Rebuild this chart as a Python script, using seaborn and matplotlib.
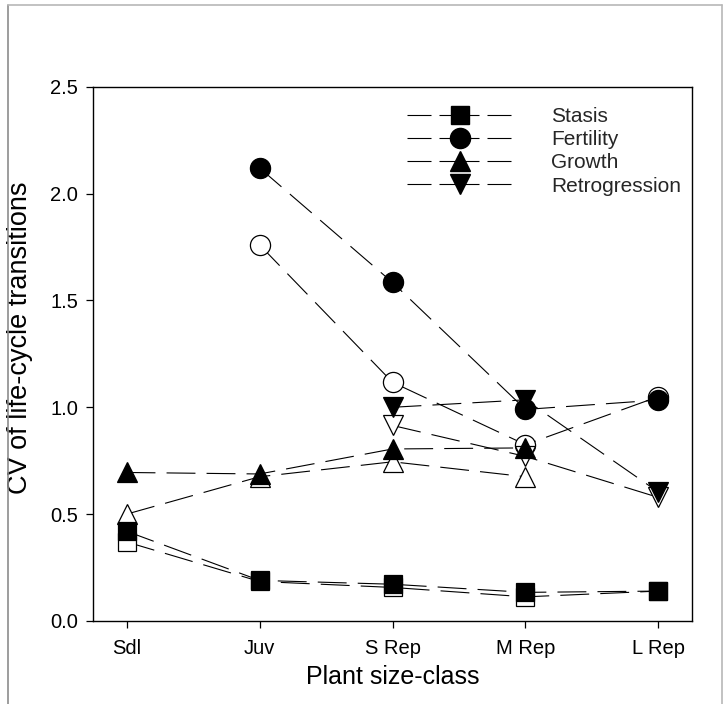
import numpy as np
import pandas as pd
import matplotlib
matplotlib.use("Agg")
import matplotlib.pyplot as plt
from matplotlib.lines import Line2D
import seaborn as sns

# ---------------- data ----------------
size_classes = ["Sdl", "Juv", "S Rep", "M Rep", "L Rep"]
nan = np.nan
stasis_open = [0.37, 0.185, 0.157, 0.113, 0.14]
stasis_filled = [0.42, 0.19, 0.172, 0.134, 0.14]
fertility_open = [nan, 1.76, 1.117, 0.825, 1.05]
fertility_filled = [nan, 2.12, 1.584, 0.99, 1.034]
growth_open = [0.50, 0.675, 0.745, 0.675, nan]
growth_filled = [0.695, 0.688, 0.805, 0.81, nan]
retro_open = [nan, nan, 0.915, 0.77, 0.578]
retro_filled = [nan, nan, 1.0, 1.035, 0.603]
legend_labels = ["Stasis", "Fertility", "Growth", "Retrogression"]
y_ticks = [0.0, 0.5, 1.0, 1.5, 2.0, 2.5]

# ---------------- style ----------------
sns.set_theme(style="ticks")
plt.rcParams["font.family"] = ["Liberation Sans", "DejaVu Sans"]

fig = plt.figure(figsize=(7.24, 7.04), dpi=100)
ax = fig.add_axes([0.1289, 0.1179, 0.8265, 0.7589])

# figure border (gray frame)
fig.add_artist(Line2D([8/724, 8/724], [0, 1-5/704], transform=fig.transFigure,
                      color="#8c8c8c", lw=1.2))
fig.add_artist(Line2D([8/724, 722/724], [1-5/704, 1-5/704], transform=fig.transFigure,
                      color="#b8b8b8", lw=1.2))
fig.add_artist(Line2D([722/724, 722/724], [0, 1-5/704], transform=fig.transFigure,
                      color="#b8b8b8", lw=1.2))

xpos = np.arange(len(size_classes))
dash = (26, 10)
lw = 0.8

series = [
    (stasis_open, "s", 13.0, "white"),
    (fertility_open, "o", 14.5, "white"),
    (growth_open, "^", 14.5, "white"),
    (retro_open, "v", 14.5, "white"),
    (stasis_filled, "s", 13.0, "black"),
    (fertility_filled, "o", 14.5, "black"),
    (growth_filled, "^", 14.5, "black"),
    (retro_filled, "v", 14.5, "black"),
]

for i, (vals, mk, ms, fc) in enumerate(series):
    df = pd.DataFrame({"x": xpos, "y": vals}).dropna()
    sns.lineplot(data=df, x="x", y="y", ax=ax, color="black", lw=lw,
                 dashes=dash, marker=mk, markersize=ms, markerfacecolor=fc,
                 markeredgecolor="black", markeredgewidth=0.9,
                 estimator=None, errorbar=None, sort=False, zorder=3 + i)

ax.set_xlim(-0.25, 4.25)
ax.set_ylim(0, 2.5)
ax.set_xticks(xpos)
ax.set_xticklabels(size_classes)
ax.set_yticks(y_ticks)
ax.set_yticklabels([f"{t:.1f}" for t in y_ticks])
ax.tick_params(axis="both", direction="out", length=5, width=0.9,
               labelsize=14.5, colors="black")
ax.tick_params(axis="y", pad=6)
ax.tick_params(axis="x", pad=8)
for sp in ax.spines.values():
    sp.set_visible(True)
    sp.set_linewidth(1.0)
    sp.set_color("black")

ax.set_xlabel("Plant size-class", fontsize=18, labelpad=5, color="black")
ax.set_ylabel("CV of life-cycle transitions", fontsize=19.5, color="black")
ax.yaxis.set_label_coords(-0.10, 0.53)

handles = []
for mk in ["s", "o", "^", "v"]:
    handles.append(Line2D([0], [0], color="black", lw=lw, dashes=(21.6, 7.2, 36, 7.2),
                          marker=mk, markersize=13 if mk == "s" else 14.5,
                          markerfacecolor="black", markeredgecolor="black"))
leg = ax.legend(handles, legend_labels, loc="upper left", frameon=False,
                fontsize=15, handlelength=5.0, handletextpad=1.9,
                labelspacing=0.2, bbox_to_anchor=(0.525, 0.962),
                borderaxespad=0.0, borderpad=0.0)

fig.savefig("out.png", dpi=100)
